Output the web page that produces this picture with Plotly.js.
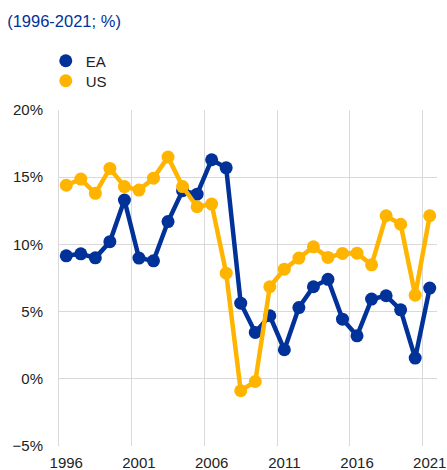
<!DOCTYPE html>
<html>
<head>
<meta charset="utf-8">
<script src="https://cdn.plot.ly/plotly-3.0.1.min.js"></script>
<style>html,body{margin:0;padding:0;background:#fff;}#chart{width:447px;height:470px;}</style>
</head>
<body>
<div id="chart"></div>
<script>
var years = [1996,1997,1998,1999,2000,2001,2002,2003,2004,2005,2006,2007,2008,2009,2010,2011,2012,2013,2014,2015,2016,2017,2018,2019,2020,2021];
var ea = [9.15,9.3,9.0,10.2,13.3,8.98,8.78,11.7,14.0,13.74,16.3,15.7,5.63,3.45,4.69,2.16,5.3,6.85,7.4,4.44,3.2,5.93,6.18,5.13,1.54,6.75];
var us = [14.4,14.86,13.8,15.65,14.3,14.04,14.93,16.5,14.3,12.8,13.0,7.86,-0.89,-0.2,6.85,8.16,8.98,9.82,9.03,9.33,9.35,8.48,12.13,11.5,6.22,12.13];
var seriesNames = ['EA','US'];
var colors = ['#003299','#ffb400'];
var tickYears = [1996,2001,2006,2011,2016,2021];
var titleText = '(1996-2021; %)';

var xs = years.map(function(y){return y + 0.5;});
var vals = [ea, us];
var legendIds = ['legend','legend2'];
var traces = [];
vals.forEach(function(v,i){
  traces.push({x: xs, y: v, type:'scatter', mode:'lines+markers', name: seriesNames[i],
    line:{color:colors[i], width:4.5}, marker:{color:colors[i], size:13}, showlegend:false, hoverinfo:'skip'});
});
vals.forEach(function(v,i){
  traces.push({x:[null], y:[null], type:'scatter', mode:'markers', name: seriesNames[i],
    marker:{color:colors[i], size:13}, showlegend:true, legend: legendIds[i]});
});

var legFont = {size:15, color:'#222'};
var layout = {
  width:447, height:470,
  margin:{l:59, r:10, t:110, b:24},
  paper_bgcolor:'#fff', plot_bgcolor:'#fff',
  font:{family:'"Liberation Sans", Arial, sans-serif', size:15, color:'#222'},
  title:{text:titleText, font:{size:16.5, color:'#003299'}, xref:'container', yref:'container', x:0.016, xanchor:'left', y:1-21/470, yanchor:'middle'},
  xaxis:{range:[1996,2022], tickmode:'array', tickvals:tickYears.map(function(y){return y+0.5;}), ticktext:tickYears.map(String),
    showgrid:false, zeroline:false, showline:false, ticks:'', ticklabelstandoff:6, fixedrange:true,
    minor:{tick0:1996, dtick:5, showgrid:true, gridcolor:'#d9d9d9', gridwidth:1, ticks:''}},
  yaxis:{range:[-5,20], tickmode:'linear', tick0:-5, dtick:5, ticksuffix:'%',
    showgrid:true, gridcolor:'#d9d9d9', gridwidth:1, zeroline:false, showline:true, linecolor:'#d9d9d9', linewidth:1,
    ticks:'', ticklabelstandoff:12, fixedrange:true},
  legend:{x:-0.035, xanchor:'left', y:(446-61)/336, yanchor:'middle', bgcolor:'rgba(0,0,0,0)', font:legFont},
  legend2:{x:-0.035, xanchor:'left', y:(446-81)/336, yanchor:'middle', bgcolor:'rgba(0,0,0,0)', font:legFont},
  showlegend:true
};
Plotly.newPlot('chart', traces, layout, {displayModeBar:false, staticPlot:true});
</script>
</body>
</html>
